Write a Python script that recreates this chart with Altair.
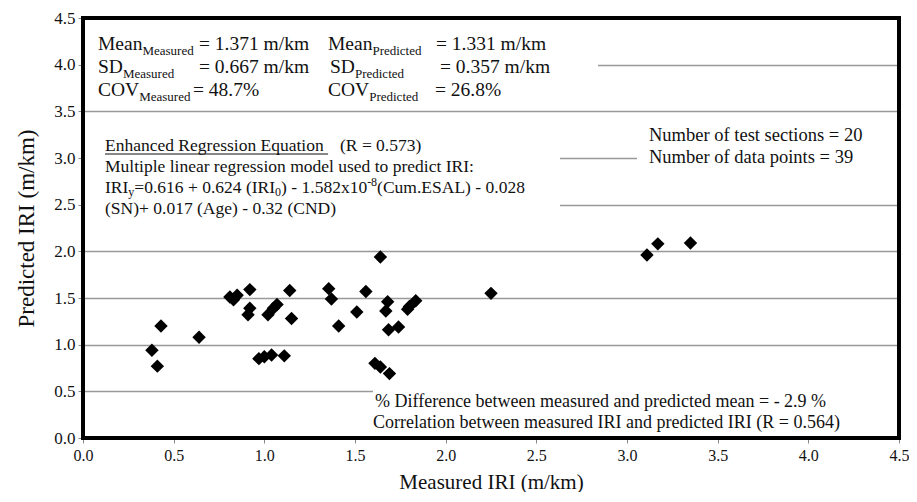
import altair as alt
import pandas as pd

# ---------------- data ----------------
measured = [1.64, 0.43, 0.38, 0.41, 0.64, 0.81, 0.85, 0.92, 0.92, 0.91,
            0.97, 1.00, 1.04, 1.11, 1.02, 1.05, 1.07, 1.14, 1.15, 1.355,
            1.37, 1.41, 1.51, 1.56, 1.61, 1.64, 1.69, 1.68, 1.67, 1.685,
            1.74, 1.80, 1.835, 2.25, 3.11, 3.17, 3.35, 0.83, 1.79]
predicted = [1.94, 1.20, 0.94, 0.77, 1.08, 1.51, 1.53, 1.59, 1.39, 1.32,
             0.85, 0.87, 0.89, 0.88, 1.32, 1.39, 1.43, 1.58, 1.28, 1.60,
             1.49, 1.20, 1.35, 1.57, 0.80, 0.76, 0.69, 1.46, 1.36, 1.16,
             1.19, 1.41, 1.47, 1.55, 1.96, 2.08, 2.09, 1.48, 1.38]
tick_values = [0.0, 0.5, 1.0, 1.5, 2.0, 2.5, 3.0, 3.5, 4.0, 4.5]

# annotation lines: list of segments (text, kind)  kind: m=main, s=subscript, p=superscript, "=" column anchored
stat_lines = [
    [("Mean", "m"), ("Measured", "s"), ("= 1.371 m/km", "=")],
    [("SD", "m"), ("Measured", "s"), ("= 0.667 m/km", "=")],
    [("COV", "m"), ("Measured", "s"), ("= 48.7%", "=")],
    [("Mean", "m"), ("Predicted", "s"), ("= 1.331 m/km", "=")],
    [("SD", "m"), ("Predicted", "s"), ("= 0.357 m/km", "=")],
    [("COV", "m"), ("Predicted", "s"), ("= 26.8%", "=")],
]
reg_lines = [
    [("Enhanced Regression Equation", "m"), ("(R = 0.573)", "=")],
    [("Multiple linear regression model used to predict IRI:", "m")],
    [("IRI", "m"), ("y", "s"), ("=0.616 + 0.624 (IRI", "m"), ("0", "s"),
     (") - 1.582x10", "m"), ("-8", "p"), (" (Cum.ESAL) - 0.028", "m")],
    [("(SN)+ 0.017 (Age) - 0.32 (CND)", "m")],
]
count_lines = [[("Number of test sections = 20", "m")], [("Number of data points = 39", "m")]]
diff_lines = [[("% Difference between measured and predicted mean = - 2.9 %", "m")],
              [("Correlation between measured IRI and predicted IRI  (R = 0.564)", "m")]]

# ---------------- layout (page pixels) ----------------
W, H = 816, 420
X0, Y0 = 83, 18
DMAX = 4.5
FONT = "Liberation Serif"
INK = "#111"

# (start x, baseline y, main size, sub size, sub drop, "=" column x)
stat_pos = [(98, 50, 19.5, 13, 5, 199), (98, 73, 19.5, 13, 5, 199), (98, 96, 19.5, 13, 5, 193),
            (328, 50, 19.5, 13, 5, 436), (330, 73, 19.5, 13, 5, 440), (328, 96, 19.5, 13, 5, 435)]
reg_pos = [(105, 151, 17.5, 12, 3, 340), (105, 172, 17.5, 12, 3, 0),
           (105, 193, 17.5, 12, 3, 0), (105, 214, 17.5, 12, 3, 0)]
count_pos = [(649, 141, 18.5, 13, 4, 0), (649, 163, 18.5, 13, 4, 0)]
diff_pos = [(375, 407, 18, 12, 4, 0), (373, 428, 18, 12, 4, 0)]

box_px = [(83, 18, 598, 104), (83, 120, 560, 219), (637, 120, 899, 171), (373, 386, 899, 438)]

# Times / Liberation Serif advance widths (em/1000)
CW = {" ": 250, "%": 833, "(": 333, ")": 333, "+": 564, ",": 250, "-": 333, ".": 250,
      "/": 278, ":": 278, "=": 564, "A": 722, "C": 667, "D": 722, "E": 611, "I": 333,
      "L": 611, "M": 889, "N": 722, "O": 722, "P": 556, "R": 667, "S": 556, "V": 722,
      "a": 444, "b": 500, "c": 444, "d": 500, "e": 444, "f": 333, "g": 500, "h": 500,
      "i": 278, "k": 500, "l": 278, "m": 778, "n": 500, "o": 500, "p": 500, "q": 500,
      "r": 333, "s": 389, "t": 278, "u": 500, "v": 500, "w": 722, "x": 500, "y": 500}


def tw(s, size):
    return sum(CW.get(c, 500) for c in s) / 1000.0 * size


def layout(lines, positions):
    out = []
    for segs, (x, y, fm, fs, drop, colx) in zip(lines, positions):
        cx = x
        for t, kind in segs:
            if kind == "s":
                size, dy = fs, drop
            elif kind == "p":
                size, dy = fs, -7
            else:
                size, dy = fm, 0
            if kind == "=":
                cx = max(colx, cx + 2)
            out.append((t, cx, y + dy, size))
            cx += tw(t, size)
    return out


pieces = (layout(stat_lines, stat_pos) + layout(reg_lines, reg_pos)
          + layout(count_lines, count_pos) + layout(diff_lines, diff_pos))

pts = pd.DataFrame({"Measured IRI": measured, "Predicted IRI": predicted})
one = pd.DataFrame({"k": [0]})

xs = alt.Scale(domain=[0, DMAX], nice=False, zero=False)
ys = alt.Scale(domain=[0, DMAX], nice=False, zero=False)

points = alt.Chart(pts).mark_point(shape="diamond", filled=True, color="black",
                                   size=180, opacity=1).encode(
    x=alt.X("Measured IRI:Q", scale=xs,
            axis=alt.Axis(values=tick_values, format=".1f", title="Measured IRI (m/km)",
                          grid=False, domain=False, ticks=True, tickColor="#888",
                          tickSize=5, labelPadding=4, labelFontSize=16,
                          titleFontSize=21, titlePadding=8)),
    y=alt.Y("Predicted IRI:Q", scale=ys,
            axis=alt.Axis(values=tick_values, format=".1f", title="Predicted IRI (m/km)",
                          grid=True, gridColor="#999", gridWidth=1.5, domain=False,
                          ticks=True, tickColor="#888", tickSize=5, labelPadding=3,
                          labelFontSize=17, titleFontSize=23, titlePadding=15)),
)

layers = []
for a, b, c, d in box_px:
    layers.append(alt.Chart(one).mark_rect(fill="white", strokeWidth=0).encode(
        x=alt.value(a - X0), x2=alt.value(c - X0), y=alt.value(b - Y0), y2=alt.value(d - Y0)))

layers.append(points)

for t, px, py, size in pieces:
    layers.append(alt.Chart(one).mark_text(text=t, align="left", baseline="alphabetic",
                                           font=FONT, fontSize=size, color=INK).encode(
        x=alt.value(px - X0), y=alt.value(py - Y0)))

layers.append(alt.Chart(one).mark_rule(color=INK, strokeWidth=1).encode(
    x=alt.value(105 - X0), x2=alt.value(105 - X0 + tw("Enhanced Regression Equation ", 17.5)),
    y=alt.value(154 - Y0)))

layers.append(alt.Chart(one).mark_rect(filled=False, stroke="black", strokeWidth=4).encode(
    x=alt.value(0), x2=alt.value(W), y=alt.value(0), y2=alt.value(H)))

chart = alt.layer(*layers).properties(
    width=W, height=H,
    autosize=alt.AutoSizeParams(type="none"),
    padding={"left": X0 - 8, "top": Y0 - 8, "right": 10, "bottom": 54},
    background="white",
).configure_view(stroke=None).configure_axis(
    labelFont=FONT, titleFont=FONT, labelColor=INK, titleColor=INK,
    titleFontWeight="normal", labelFlush=False,
).configure_text(font=FONT)

chart.save("out.html", embed_options={"renderer": "svg", "actions": False})
